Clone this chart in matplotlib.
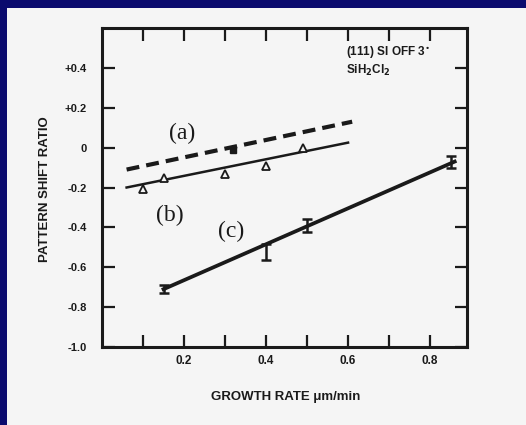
import matplotlib
matplotlib.use("Agg")
import matplotlib.pyplot as plt
from matplotlib.patches import Rectangle
from matplotlib.ticker import FixedLocator

# Fitted line (a), dashed
fit_a_x = [0.06, 0.61]
fit_a_y = [-0.11, 0.13]
mark_a_x = [0.32]
mark_a_y = [-0.01]

# Series (b): triangles and fitted line
rate_b = [0.10, 0.15, 0.30, 0.40, 0.49]
shift_b = [-0.21, -0.15, -0.13, -0.09, 0.0]
fit_b_x = [0.06, 0.60]
fit_b_y = [-0.20, 0.025]

# Series (c): points with error bars and fitted line
rate_c = [0.15, 0.40, 0.50, 0.85]
shift_c = [-0.71, -0.525, -0.39, -0.07]
err_c = [0.02, 0.04, 0.033, 0.03]
fit_c_x = [0.15, 0.86]
fit_c_y = [-0.71, -0.07]

x_ticks = [0.1, 0.2, 0.3, 0.4, 0.5, 0.6, 0.7, 0.8]
x_tick_labels = ["", "0.2", "", "0.4", "", "0.6", "", "0.8"]
y_ticks = [0.4, 0.2, 0.0, -0.2, -0.4, -0.6, -0.8, -1.0]
y_tick_labels = ["+0.4", "+0.2", "0", "-0.2", "-0.4", "-0.6", "-0.8", "-1.0"]

navy = "#0b0b6e"
paper = "#f5f5f5"
ink = "#1a1a1a"
sans = "Liberation Sans"
serif = "Liberation Serif"

fig = plt.figure(figsize=(5.26, 4.25), dpi=100, facecolor=navy)
sheet = Rectangle((7 / 526, 0), 1 - 7 / 526, 1 - 8 / 425,
                  transform=fig.transFigure, facecolor=paper,
                  edgecolor="none", zorder=-10)
fig.add_artist(sheet)

ax = fig.add_axes([102 / 526, 1 - 347 / 425, 365 / 526, 319 / 425])
ax.set_zorder(1)
ax.set_facecolor(paper)
ax.set_xlim(0.0, 0.89)
ax.set_ylim(-1.0, 0.6)

for s in ax.spines.values():
    s.set_linewidth(2.2)
    s.set_color(ink)

ax.xaxis.set_major_locator(FixedLocator(x_ticks))
ax.set_xticklabels(x_tick_labels)
ax.yaxis.set_major_locator(FixedLocator(y_ticks))
ax.set_yticklabels(y_tick_labels)
ax.tick_params(axis="both", direction="in", length=9, width=1.6, color=ink,
               top=True, right=True, labelcolor=ink)
ax.tick_params(axis="x", pad=6, labelsize=8.5)
ax.tick_params(axis="y", pad=11, labelsize=8)
for lab in ax.get_xticklabels() + ax.get_yticklabels():
    lab.set_fontfamily(sans)
    lab.set_fontweight("bold")

# (a) dashed fit
ax.plot(fit_a_x, fit_a_y, color=ink, lw=3.0, dashes=(3.1, 1.7),
        dash_capstyle="butt")
ax.plot(mark_a_x, mark_a_y, marker="s", ms=4, color=ink, ls="none")

# (b) triangles and fit
ax.plot(fit_b_x, fit_b_y, color=ink, lw=1.8)
ax.plot(rate_b, shift_b, marker="^", ms=5.5, mfc=paper, mec=ink, mew=1.3,
        ls="none")

# (c) error bars and fit
ax.plot(fit_c_x, fit_c_y, color=ink, lw=2.7)
ax.errorbar(rate_c, shift_c, yerr=err_c, fmt="none", ecolor=ink,
            elinewidth=1.8, capsize=3.5, capthick=1.8)

ax.text(0.195, 0.07, "(a)", fontsize=17, family=serif, color=ink,
        ha="center", va="center")
ax.text(0.165, -0.34, "(b)", fontsize=17, family=serif, color=ink,
        ha="center", va="center")
ax.text(0.315, -0.42, "(c)", fontsize=17, family=serif, color=ink,
        ha="center", va="center")

ax.text(0.595, 0.475, "(111) SI OFF 3$^{\\bullet}$", fontsize=8.5,
        family=sans, fontweight="bold", color=ink, ha="left", va="center")
ax.text(0.595, 0.385, "SiH$_\\mathbf{2}$Cl$_\\mathbf{2}$", fontsize=8.5,
        family=sans, fontweight="bold", color=ink, ha="left", va="center")

fig.text(45 / 526, 1 - 189 / 425, "PATTERN SHIFT RATIO", rotation=90,
         fontsize=9.5, family=sans, fontweight="bold", color=ink,
         ha="center", va="center")
fig.text(286 / 526, 1 - 397 / 425, "GROWTH RATE \u03bcm/min", fontsize=9.5,
         family=sans, fontweight="bold", color=ink, ha="center", va="center")

fig.savefig("out.png", dpi=100, facecolor=navy)
